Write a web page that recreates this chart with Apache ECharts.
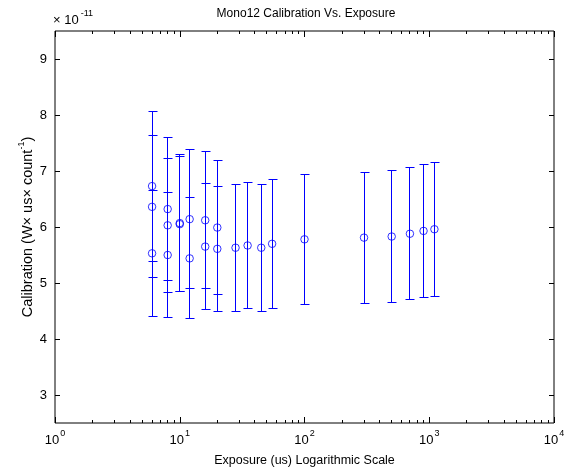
<!DOCTYPE html>
<html><head><meta charset="utf-8">
<script src="https://cdn.jsdelivr.net/npm/echarts@6/dist/echarts.min.js"></script>
<style>html,body{margin:0;padding:0;background:#fff}#c{width:564px;height:469px}</style>
</head><body><div id="c"></div>
<script>
// Data (calibration in units of 1e-11)
const exposureHigh = [6, 8, 10, 12, 16, 20];
const calibHigh    = [6.73, 6.32, 6.07, 6.14, 6.12, 5.99];
const errHigh      = [1.34, 1.27, 1.22, 1.24, 1.22, 1.19];

const exposureMid = [6, 8, 10];
const calibMid    = [6.36, 6.03, 6.05];
const errMid      = [1.27, 1.20, 1.21];

const exposureLow = [6, 8, 12, 16, 20, 28, 35, 45, 55, 100, 300, 500, 700, 900, 1100];
const calibLow    = [5.53, 5.50, 5.44, 5.65, 5.61, 5.63, 5.67, 5.63, 5.70, 5.78, 5.81, 5.83, 5.88, 5.93, 5.96];
const errLow      = [1.12, 1.11, 1.08, 1.13, 1.12, 1.13, 1.13, 1.13, 1.15, 1.16, 1.17, 1.17, 1.18, 1.19, 1.20];

const xMinorTicks = [2,3,4,5,6,7,8,9,20,30,40,50,60,70,80,90,200,300,400,500,600,700,800,900,2000,3000,4000,5000,6000,7000,8000,9000];
const yTicks = [3, 4, 5, 6, 7, 8, 9];

const FONT = 'Liberation Sans, Arial, Helvetica, sans-serif';
const BLUE = '#0000ff';

function pts(xs, ys) { return xs.map((x, i) => [x, ys[i]]); }
function bars(xs, ys, es) { return xs.map((x, i) => [x, ys[i] - es[i], ys[i] + es[i]]); }

const points = [].concat(pts(exposureHigh, calibHigh), pts(exposureMid, calibMid), pts(exposureLow, calibLow));
const errBars = [].concat(bars(exposureHigh, calibHigh, errHigh), bars(exposureMid, calibMid, errMid), bars(exposureLow, calibLow, errLow));

const chart = echarts.init(document.getElementById('c'), null, {renderer: 'canvas'});

const richB = {fontSize: 13, fontFamily: FONT, color: '#000', verticalAlign: 'bottom', lineHeight: 15};
const richS = {fontSize: 9, fontFamily: FONT, color: '#000', verticalAlign: 'bottom', lineHeight: 10, padding: [0, 0, 9, 1]};

const baseX = {type: 'log', logBase: 10, min: 1, max: 10000, gridIndex: 0,
  splitLine: {show: false}, axisLine: {show: false}};

const crisp = v => Math.round(v - 0.5) + 0.5;

function minorTickSeries(atTop) {
  return {
    type: 'custom', xAxisIndex: 0, yAxisIndex: 0, silent: true, clip: false, z: 1,
    data: xMinorTicks.map(v => [v]),
    renderItem: function (params, api) {
      const p = api.coord([api.value(0), atTop ? 9.5 : 2.5]);
      const x = crisp(p[0]);
      const y2 = atTop ? p[1] + 3 : p[1] - 3;
      return {type: 'line', shape: {x1: x, y1: p[1], x2: x, y2: y2},
        style: {stroke: '#000', lineWidth: 1}};
    }
  };
}

function seg(x1, y1, x2, y2) {
  return {type: 'line', shape: {x1: x1, y1: y1, x2: x2, y2: y2},
    style: {stroke: BLUE, lineWidth: 1, fill: null, opacity: 1}};
}

const option = {
  backgroundColor: '#fff',
  animation: false,
  grid: {left: 55, right: 10, top: 31, bottom: 46, outerBoundsMode: 'none', containLabel: false,
    show: true, borderColor: '#000', borderWidth: 1, backgroundColor: 'transparent'},
  graphic: [
    {type: 'text', x: 306, y: 8, style: {text: 'Mono12 Calibration Vs. Exposure', font: '12px ' + FONT, fill: '#000', textAlign: 'center'}},
    {type: 'text', x: 53, y: 12, style: {text: '{b|× 10}{s|-11}', fill: '#000',
      rich: {b: richB, s: Object.assign({}, richS, {padding: [0, 0, 9, 2]})}}}
  ],
  xAxis: [
    Object.assign({}, baseX, {position: 'bottom',
      axisTick: {show: true, inside: true, length: 6, lineStyle: {color: '#000'}},
      axisLabel: {show: true, margin: 9, formatter: v => '{b|10}{s|' + Math.round(Math.log10(v)) + '}', rich: {b: richB, s: richS}},
      name: 'Exposure (us) Logarithmic Scale', nameLocation: 'middle', nameGap: 31,
      nameTextStyle: {fontSize: 12.5, fontFamily: FONT, color: '#000'}}),
    Object.assign({}, baseX, {position: 'top',
      axisTick: {show: true, inside: true, length: 6, lineStyle: {color: '#000'}},
      axisLabel: {show: false}})
  ],
  yAxis: [
    {type: 'value', min: 2.5, max: 9.5, position: 'left', splitLine: {show: false}, axisLine: {show: false},
      axisTick: {show: true, inside: true, length: 5, customValues: yTicks, lineStyle: {color: '#000'}},
      axisLabel: {show: true, customValues: yTicks, margin: 8, fontSize: 13, fontFamily: FONT, color: '#000'},
      name: '{b|Calibration (W× us× count}{s|-1}{b|)}', nameLocation: 'middle', nameGap: 20, nameMoveOverlap: false,
      nameTextStyle: {fontSize: 13, fontFamily: FONT, color: '#000',
        rich: {b: Object.assign({}, richB, {fontSize: 14.5}), s: Object.assign({}, richS, {padding: [0, 0, 9, 0]})}}},
    {type: 'value', min: 2.5, max: 9.5, position: 'right', splitLine: {show: false}, axisLine: {show: false},
      axisTick: {show: true, inside: true, length: 5, customValues: yTicks, lineStyle: {color: '#000'}},
      axisLabel: {show: false}}
  ],
  series: [
    minorTickSeries(false),
    minorTickSeries(true),
    {
      type: 'custom', xAxisIndex: 0, yAxisIndex: 0, z: 3,
      data: errBars,
      renderItem: function (params, api) {
        const xv = api.value(0);
        const lo = api.coord([xv, api.value(1)]);
        const hi = api.coord([xv, api.value(2)]);
        const x = crisp(lo[0]);
        const yl = crisp(lo[1]), yh = crisp(hi[1]);
        const w = 4;
        return {type: 'group', children: [
          seg(x, yl, x, yh),
          seg(x - w, yh, x + w + 1, yh),
          seg(x - w, yl, x + w + 1, yl)
        ]};
      }
    },
    {
      type: 'scatter', xAxisIndex: 0, yAxisIndex: 0, z: 4,
      data: points, symbol: 'circle', symbolSize: 7.5,
      itemStyle: {color: 'rgba(0,0,0,0)', borderColor: BLUE, borderWidth: 1}
    }
  ]
};
chart.setOption(option);
</script>
</body></html>
